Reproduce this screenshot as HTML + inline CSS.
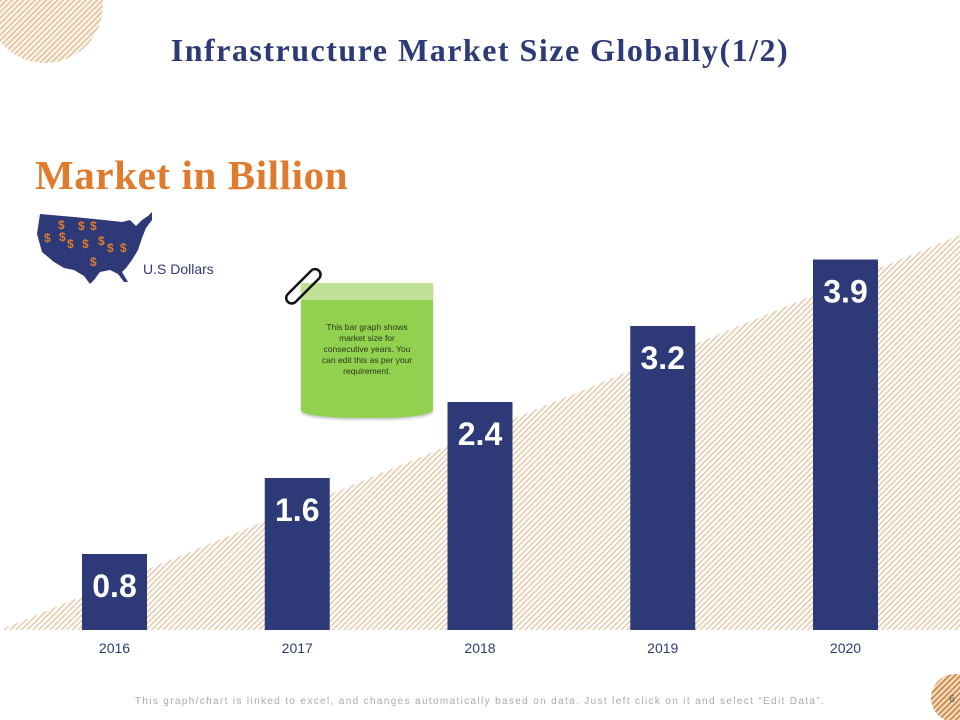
<!DOCTYPE html>
<html><head><meta charset="utf-8"><style>
body{margin:0;width:960px;height:720px;overflow:hidden;background:#fff;position:relative;font-family:"Liberation Sans",sans-serif}
.abs{position:absolute}
</style></head><body>
<svg class="abs" style="left:0;top:0" width="960" height="720">
<defs>
<pattern id="h" width="4" height="4" patternUnits="userSpaceOnUse" patternTransform="rotate(45)"><rect width="4" height="4" fill="#fff"/><rect width="1.4" height="4" fill="#e6c6a2"/></pattern>
<pattern id="h2" width="4" height="4" patternUnits="userSpaceOnUse" patternTransform="rotate(45)"><rect width="4" height="4" fill="#fbf3ea"/><rect width="1.5" height="4" fill="#e3bf98"/></pattern>
<pattern id="h3" width="4" height="4" patternUnits="userSpaceOnUse" patternTransform="rotate(45)"><rect width="4" height="4" fill="#f3dcc3"/><rect width="1.8" height="4" fill="#c98a48"/></pattern>
</defs>
<circle cx="45" cy="5" r="58" fill="url(#h2)"/>
<polygon points="0,630 960,235 960,630" fill="url(#h)"/>
<circle cx="955" cy="698" r="24" fill="url(#h3)"/>
<text x="952" y="702" font-size="10" fill="#555" text-anchor="middle" font-family="Liberation Sans">6</text>
</svg>
<div class="abs" style="left:0;width:960px;top:32px;text-align:center;font:bold 32px 'Liberation Serif',serif;letter-spacing:1.5px;color:#2e3a78">Infrastructure Market Size Globally(1/2)</div>
<div class="abs" style="left:35px;top:151px;font:bold 41px 'Liberation Serif',serif;letter-spacing:0.6px;color:#e07a2c">Market in Billion</div>
<svg class="abs" style="left:34px;top:210px" width="124" height="76">
<path d="M6,4 L40,7 L70,10 L88,12 L96,10 L102,16 L108,10 L114,6 L118,2 L118,10 L112,18 L108,28 L104,40 L98,50 L92,58 L88,62 L94,72 L90,72 L84,64 L76,60 L66,62 L60,70 L56,74 L50,66 L40,60 L30,58 L20,52 L8,42 L3,24 Z" fill="#2e3a78"/>
<g fill="#e07a2c" font-size="12" font-weight="bold" font-family="Liberation Sans">
<text x="24" y="19">$</text><text x="44" y="20">$</text><text x="56" y="20">$</text>
<text x="10" y="32">$</text><text x="25" y="31">$</text><text x="33" y="38">$</text><text x="48" y="38">$</text><text x="64" y="35">$</text><text x="73" y="42">$</text><text x="86" y="42">$</text><text x="56" y="56">$</text>
</g></svg>
<div class="abs" style="left:143px;top:261px;font-size:14px;color:#2e3a78">U.S Dollars</div>
<div class="abs" style="left:301px;top:283px;width:132px;height:135px;background:#92d050;border-radius:0 0 40% 40%/0 0 8px 8px;box-shadow:0 2px 2px #ccc">
<div style="height:17px;background:#c0e297"></div>
<div style="padding:22px 18px 0;text-align:center;font-size:8.5px;line-height:11px;color:#2a3a18">This bar graph shows market size for consecutive years. You can edit this as per your requirement.</div></div>
<svg class="abs" style="left:285px;top:265px" width="50" height="45"><rect x="-4" y="16" width="44" height="11" rx="5.5" fill="none" stroke="#111" stroke-width="2.5" transform="rotate(-45 18 21)"/></svg>
<svg id="chart" class="abs" style="left:0;top:0" width="960" height="720"></svg>
<div class="abs" style="left:0;width:960px;top:696px;text-align:center;font-size:10px;letter-spacing:1.35px;color:#aaa">This graph/chart is linked to excel, and changes automatically based on data. Just left click on it and select “Edit Data”.</div>
<script>
const categories=["2016","2017","2018","2019","2020"];
const values=[0.8,1.6,2.4,3.2,3.9];
const labels=["0.8","1.6","2.4","3.2","3.9"];
const NS="http://www.w3.org/2000/svg",svg=document.getElementById('chart');
const base=630,pxPer=95,x0=114.5,step=182.75,bw=65;
const x=i=>x0+i*step, y=v=>base-v*pxPer;
function mk(t,a){const e=document.createElementNS(NS,t);for(const k in a)e.setAttribute(k,a[k]);svg.appendChild(e);return e;}
values.forEach((v,i)=>{
const r=mk('rect',{x:x(i)-bw/2,y:y(v),width:bw,height:base-y(v),fill:'#2e3a78'});


const t=mk('text',{x:x(i),y:y(v)+43,'text-anchor':'middle',fill:'#fff','font-size':32,'font-weight':'bold','font-family':'Liberation Sans'});
t.textContent=labels[i];


const c=mk('text',{x:x(i),y:653,'text-anchor':'middle',fill:'#2e3a78','font-size':14,'font-family':'Liberation Sans'});
c.textContent=categories[i];


});
</script>
</body></html>
